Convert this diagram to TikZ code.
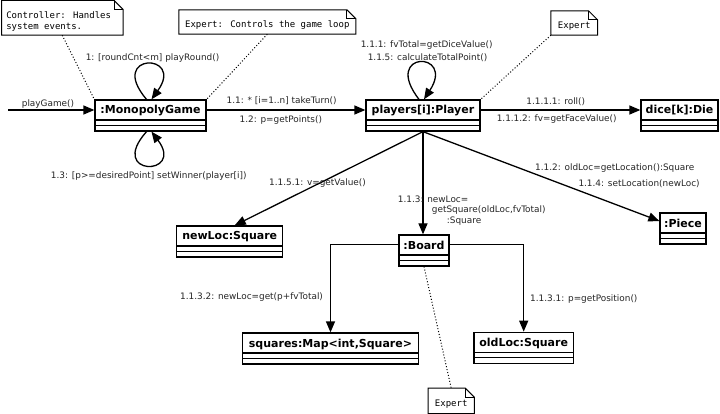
\documentclass[tikz,border=0pt]{standalone}
\usepackage{fontspec}
\setmainfont{DejaVu Sans}
\newfontfamily\monofont{DejaVu Sans Mono}
\usetikzlibrary{arrows.meta,calc}

% text set slightly lower than its box reports
\newcommand{\lowered}[2]{\raisebox{-#1}[\height][\depth]{#2}}
\newcommand{\lblfont}{\fontsize{8.9}{10.5}\selectfont}
\newcommand{\objfont}{\fontsize{11}{13}\selectfont\bfseries}
\newcommand{\notefont}{\monofont\fontsize{9}{11.7}\selectfont}

\tikzset{
  obj/.style={draw, line width=1.3pt, fill=white, inner xsep=0pt, inner ysep=0pt,
    font=\objfont, text height=14pt, text depth=17pt,
    path picture={
      \draw[line width=1.3pt] ([yshift=11pt]path picture bounding box.south west) -- ([yshift=11pt]path picture bounding box.south east);
      \draw[line width=1.3pt] ([yshift=5.5pt]path picture bounding box.south west) -- ([yshift=5.5pt]path picture bounding box.south east);
    }},
  note/.style={inner sep=0pt, font=\notefont,
    append after command={\pgfextra{
      \draw[line width=1pt, line join=miter]
        (\tikzlastnode.north west) -- ([xshift=-9pt]\tikzlastnode.north east)
        -- ([yshift=-9pt]\tikzlastnode.north east) -- (\tikzlastnode.south east)
        -- (\tikzlastnode.south west) -- cycle;
      \draw[line width=0.8pt] ([xshift=-9pt]\tikzlastnode.north east) |- ([yshift=-9pt]\tikzlastnode.north east);
    }}},
  msg/.style={line width=1.3pt, -{Triangle[length=11pt,width=9pt]}},
  dotline/.style={line width=1pt, dotted},
  lbl/.style={font=\lblfont, text=black!85, inner sep=0pt},
}

\begin{document}
\begin{tikzpicture}[x=1pt,y=-1pt]
  \fill[white] (0,0) rectangle (720,414);
  \useasboundingbox (0,0) rectangle (720,414);

  % objects
  \node[obj, minimum width=111pt] (mg) at (150.5,115.5) {:MonopolyGame};
  \node[obj, minimum width=114pt] (pl) at (423,115.5) {players[i]:Player};
  \node[obj, minimum width=77pt]  (dc) at (679.5,115.5) {dice[k]:Die};
  \node[obj, minimum width=46pt]  (pc) at (683,228.5) {:Piece};
  \node[obj, minimum width=50pt]  (bd) at (424,250.5) {:Board};
  \node[obj, minimum width=106pt] (nl) at (229.7,241.5) {newLoc:Square};
  \node[obj, minimum width=175.6pt] (sq) at (330.5,348.5) {squares:Map<int,Square>};
  \node[obj, minimum width=99.3pt] (ol) at (523.7,347.8) {oldLoc:Square};

  % notes
  \node[note, minimum width=121pt, minimum height=34.5pt] (n1) at (62.3,17.8)
    {\lowered{4pt}{\makebox[112pt][l]{\begin{tabular}{@{}l@{}}Controller: Handles\\system events.\end{tabular}}}};
  \node[note, minimum width=176.7pt, minimum height=24pt] (n2) at (267.3,22)
    {\lowered{3.3pt}{Expert: Controls the game loop}};
  \node[note, minimum width=46.3pt, minimum height=24pt] (n3) at (574.2,23)
    {\lowered{3.5pt}{Expert}};
  \node[note, minimum width=45.7pt, minimum height=25pt] (n4) at (451.2,400.8)
    {\lowered{3.5pt}{Expert}};

  % note anchors
  \draw[dotline] (n1.south) -- (mg.north west);
  \draw[dotline] (n2.south) -- (mg.north east);
  \draw[dotline] (n3.south west) -- (pl.north east);
  \draw[dotline] (bd.south) -- (n4.north);

  % messages
  \coordinate (start) at (8,110);
  \draw[msg] (start) -- ([yshift=5.5pt]mg.west);
  \draw[msg] ([yshift=5.5pt]mg.east) -- ([yshift=5.5pt]pl.west);
  \draw[msg] ([yshift=5.5pt]pl.east) -- ([yshift=5.5pt]dc.west);
  \draw[msg] ([xshift=-4pt]mg.north) .. controls +(-40,-47) and +(34,-47) .. ([xshift=1pt]mg.north);
  \draw[msg] ([xshift=-4pt]mg.south) .. controls +(-40,45) and +(34,45) .. ([xshift=1pt]mg.south);
  \draw[msg] ([xshift=-4pt]pl.north) .. controls +(-38,-49) and +(32,-49) .. ([xshift=1pt]pl.north);
  \draw[msg] (pl.south) -- ([xshift=5pt]nl.north);
  \draw[msg] (pl.south) -- (pl.south |- bd.north);
  \draw[msg] (pl.south) -- ([yshift=7.5pt]pc.west);
  \draw[msg] ([yshift=6pt]bd.west) -| (sq.north);
  \draw[msg] ([yshift=6pt]bd.east) -| (ol.north);

  % message labels
  \node[lbl] (lplay) at (48,104) {playGame()};
  \node[lbl] (lround) at (152.5,58) {1: [roundCnt<m] playRound()};
  \node[lbl] (lwin) at (148.8,176) {1.3: [p>=desiredPoint] setWinner(player[i])};
  \node[lbl] (lturn) at (281.7,101) {1.1: * [i=1..n] takeTurn()};
  \node[lbl] (lpts) at (280.8,120) {1.2: p=getPoints()};
  \node[lbl] (ldice) at (426.7,45) {1.1.1: fvTotal=getDiceValue()};
  \node[lbl] (ltotal) at (427.5,57.3) {1.1.5: calculateTotalPoint()};
  \node[lbl] (lroll) at (555.8,101.7) {1.1.1.1: roll()};
  \node[lbl] (lface) at (556.7,119) {1.1.1.2: fv=getFaceValue()};
  \node[lbl, anchor=west] (lval) at (269,183.3) {1.1.5.1: v=getValue()};
  \node[lbl, anchor=west] (lsq1) at (397.7,199) {1.1.3: newLoc=};
  \node[lbl, anchor=west] (lsq2) at (431.7,210) {getSquare(oldLoc,fvTotal)};
  \node[lbl, anchor=west] (lsq3) at (446.7,220.7) {:Square};
  \node[lbl, anchor=west] (lgetl) at (535,168.3) {1.1.2: oldLoc=getLocation():Square};
  \node[lbl, anchor=west] (lsetl) at (578.3,183.3) {1.1.4: setLocation(newLoc)};
  \node[lbl, anchor=west] (lget) at (180,297.3) {1.1.3.2: newLoc=get(p+fvTotal)};
  \node[lbl, anchor=west] (lpos) at (530,299.3) {1.1.3.1: p=getPosition()};
\end{tikzpicture}
\end{document}
